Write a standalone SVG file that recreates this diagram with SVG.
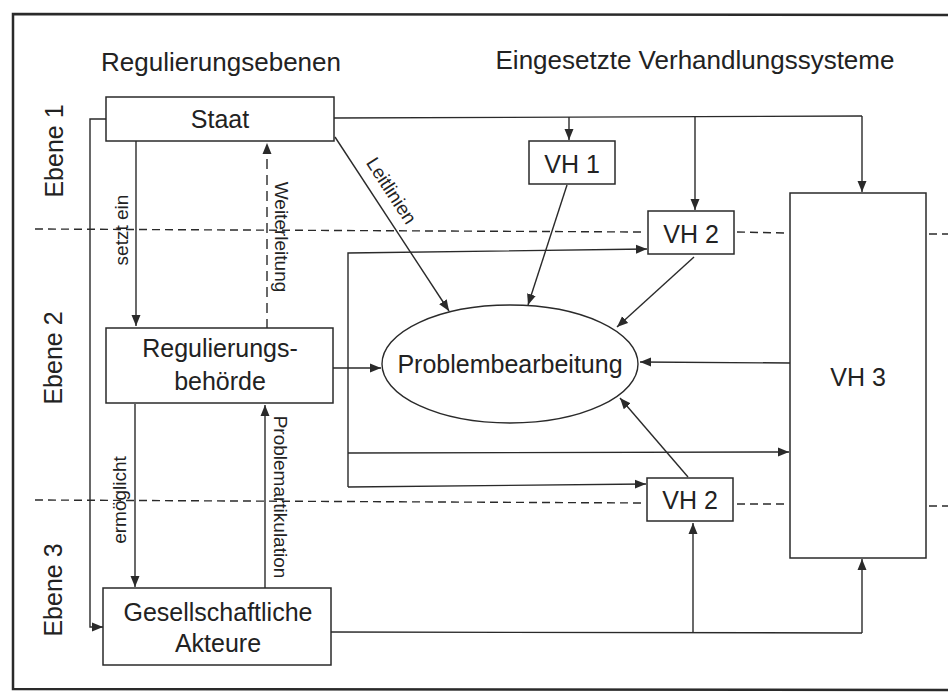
<svg xmlns="http://www.w3.org/2000/svg" width="948" height="693" viewBox="0 0 948 693">
<defs>
<marker id="ah" viewBox="0 0 11 10" refX="11" refY="5" markerWidth="11" markerHeight="10" markerUnits="userSpaceOnUse" orient="auto">
<path d="M0,0.5 L11,5 L0,9.5 Z" fill="#2a2a2a"/>
</marker>
<style>
.box{fill:#fff;stroke:#2a2a2a;stroke-width:1.5}
.ln{fill:none;stroke:#2a2a2a;stroke-width:1.4}
.arr{fill:none;stroke:#2a2a2a;stroke-width:1.4;marker-end:url(#ah)}
.dash{fill:none;stroke:#2a2a2a;stroke-width:1.4;stroke-dasharray:8 5}
.t{font-family:"Liberation Sans",Arial,sans-serif;fill:#222;font-size:25px;text-anchor:middle}
.h{font-family:"Liberation Sans",Arial,sans-serif;fill:#222;font-size:26px;text-anchor:middle}
.s{font-family:"Liberation Sans",Arial,sans-serif;fill:#222;font-size:19px;text-anchor:middle}
</style>
</defs>
<rect width="948" height="693" fill="#fff"/>
<!-- frame -->
<path d="M948,15 L13,14 L13,689 L948,690" fill="none" stroke="#2a2a2a" stroke-width="2.5"/>
<!-- titles -->
<text class="h" x="221" y="71">Regulierungsebenen</text>
<text class="h" x="695" y="69">Eingesetzte Verhandlungssysteme</text>
<text class="t" transform="translate(63,151) rotate(-90)">Ebene 1</text>
<text class="t" transform="translate(62,358) rotate(-90)">Ebene 2</text>
<text class="t" transform="translate(62,590) rotate(-90)">Ebene 3</text>
<!-- dashed level lines -->
<g id="levels">
<path class="dash" d="M35,229 L642,232"/>
<path class="dash" d="M737,232 L786,233"/>
<path class="dash" d="M929,234 L948,234"/>
<path class="dash" d="M35,500 L646,503"/>
<path class="dash" d="M737,504 L786,504"/>
<path class="dash" d="M929,506 L948,506"/>
</g>
<g id="connectors">
<!-- Staat left to Gesellschaftliche -->
<path class="arr" d="M106,119 L90,119 L90,627 L103,627"/>
<!-- setzt ein -->
<path class="arr" d="M136,141 L136,326"/>
<!-- Weiterleitung -->
<path class="ln" d="M267,329 L267,153" style="stroke-dasharray:10 6"/>
<path d="M262.5,154 L267,143 L271.5,154 Z" fill="#2a2a2a"/>
<!-- ermöglicht -->
<path class="arr" d="M135,404 L135,587"/>
<!-- Problemartikulation -->
<path class="arr" d="M265,588 L265,405"/>
<!-- Leitlinien -->
<path class="arr" d="M335,137 L449,311"/>
<!-- Staat top bus -->
<path class="ln" d="M334,118 L862,116"/>
<path class="arr" d="M569,117 L569,140"/>
<path class="arr" d="M695,116 L695,210"/>
<path class="arr" d="M862,116 L862,192"/>
<!-- to ellipse -->
<path class="arr" d="M567,185 L528,305"/>
<path class="arr" d="M694,257 L617,327"/>
<path class="arr" d="M333,368 L381,368"/>
<path class="arr" d="M790,363 L640,362"/>
<path class="arr" d="M688,477 L620,398"/>
<!-- bracket from left -->
<path class="arr" d="M348,487 L348,253 L647,249"/>
<path class="arr" d="M348,453 L789,452"/>
<path class="arr" d="M348,487 L646,484"/>
<!-- bottom bus -->
<path class="ln" d="M331,632 L862,633"/>
<path class="arr" d="M693,632 L693,523"/>
<path class="arr" d="M862,633 L862,559"/>
</g>
<!-- labels -->
<text class="s" transform="translate(128,230) rotate(-90)">setzt ein</text>
<text class="s" transform="translate(275,237) rotate(90)">Weiterleitung</text>
<text class="s" transform="translate(126,500) rotate(-90)">ermöglicht</text>
<text class="s" transform="translate(274,497) rotate(90)">Problemartikulation</text>
<text class="s" transform="translate(391,191) rotate(57)" y="6">Leitlinien</text>
<!-- nodes -->
<g id="staat"><rect class="box" x="106" y="97" width="228" height="44"/><text class="t" x="220" y="128">Staat</text></g>
<g id="behoerde"><rect class="box" x="106" y="328" width="227" height="75"/><text class="t" x="220" y="357">Regulierungs-</text><text class="t" x="220" y="390">behörde</text></g>
<g id="akteure"><rect class="box" x="103" y="588" width="228" height="77"/><text class="t" x="218" y="621">Gesellschaftliche</text><text class="t" x="218" y="652">Akteure</text></g>
<g id="problem"><ellipse cx="510" cy="364" rx="128" ry="59" fill="#fff" stroke="#2a2a2a" stroke-width="1.4"/><text class="t" x="510" y="373">Problembearbeitung</text></g>
<g id="vh1"><rect class="box" x="529" y="141" width="86" height="43"/><text class="t" x="572" y="173">VH 1</text></g>
<g id="vh2a"><rect class="box" x="648" y="211" width="86" height="43"/><text class="t" x="691" y="243">VH 2</text></g>
<g id="vh2b"><rect class="box" x="647" y="478" width="86" height="43"/><text class="t" x="690" y="509">VH 2</text></g>
<g id="vh3"><rect class="box" x="790" y="193" width="136" height="365"/><text class="t" x="858" y="386">VH 3</text></g>
</svg>
